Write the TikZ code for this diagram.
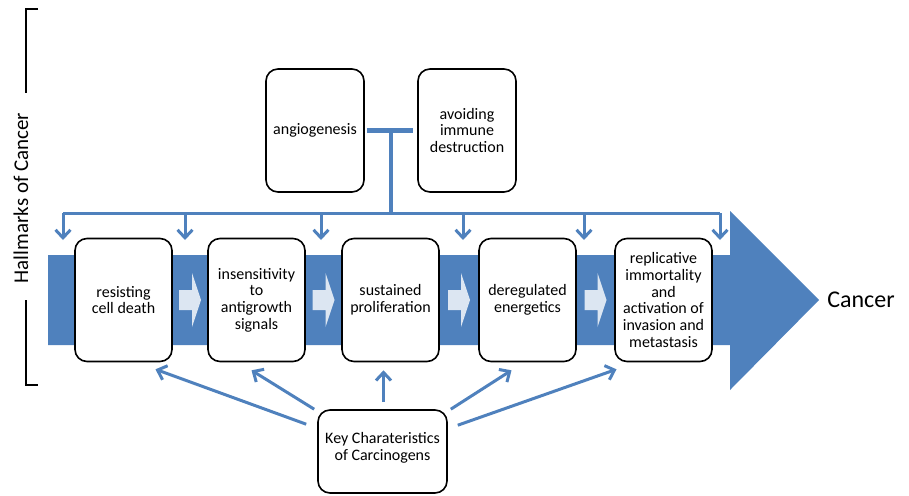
\documentclass[tikz,border=0pt]{standalone}
\usepackage{fontspec}
\setmainfont{Carlito}
\usetikzlibrary{arrows.meta, positioning, calc}
\definecolor{hmblue}{HTML}{4F81BD}
\definecolor{hmpale}{HTML}{DCE6F2}
\newcommand{\hmfont}{\fontsize{16}{16.7}\selectfont}

\begin{document}
\begin{tikzpicture}[x=1pt, y=-1pt,
    hallmark/.style={rectangle, rounded corners=12pt, draw, line width=1.6pt, fill=white,
      minimum width=97pt, minimum height=123pt, align=center, font=\hmfont, inner sep=2pt},
    feed/.style={draw=hmblue, line width=3pt, -{Straight Barb[length=8pt, width=15pt]}},
    bus/.style={draw=hmblue, line width=3pt},
    tbar/.style={draw=hmblue, line width=4.5pt},
    bracket/.style={draw, line width=1.5pt}]
    \useasboundingbox (0,0) rectangle (909,495);

    % Big arrow
    \fill[hmblue] (48,255) -- (730,255) -- (730,211) -- (819,300) -- (730,390) -- (730,345) -- (48,345) -- cycle;

    % Nodes
    \node (rcd) [hallmark] at (123.5,300) {resisting\\cell death};
    \node (ins) [hallmark, right=34.4pt of rcd] {insensitivity\\to\\antigrowth\\signals};
    \node (sus) [hallmark, right=35.4pt of ins] {sustained\\proliferation};
    \node (der) [hallmark, right=38.4pt of sus] {deregulated\\energetics};
    \node (rep) [hallmark, right=37.4pt of der] {replicative\\immortality\\and\\activation of\\invasion and\\metastasis};

    \node (ang) [hallmark, minimum width=98pt] at (315,130.5) {angiogenesis};
    \node (imm) [hallmark, minimum width=98pt, right=52.4pt of ang] {avoiding\\immune\\destruction};

    \node (key) [hallmark, minimum width=129pt, minimum height=83pt] at (382.5,451.5) {Key Charateristics\\of Carcinogens\\[-6pt]};

    \node (cancer) [font=\fontsize{24}{26}\selectfont] at (861,300) {Cancer};
    \node (hmk) [rotate=90, font=\fontsize{21}{23}\selectfont] at (21,198) {Hallmarks of Cancer};

    % Bracket
    \draw[bracket] (38,9) -- (26,9) -- (26,93);
    \draw[bracket] (26,300) -- (26,385) -- (38,385);

    % Steps between hallmarks
    \foreach \a/\b in {rcd/ins, ins/sus, sus/der, der/rep}
      \fill[hmpale] ($(\a.east)!0.5!(\b.west)$) ++(-11,-10) -- ++(13,0) -- ++(0,-17) -- ++(9,27)
        -- ++(-9,27) -- ++(0,-17) -- ++(-13,0) -- cycle;

    % Edges
    \draw[tbar] ([xshift=2pt]ang.east) -- ([xshift=-4pt]imm.west);
    \coordinate (mid) at ($(ang.east)!0.5!(imm.west)$);
    \foreach \x [count=\i] in {63,185,321,463,584,720} {
      \coordinate (top\i) at (\x,213);
      \coordinate (tip\i) at (\x,240);
    }
    \draw[tbar] (mid) -- (mid |- top1);
    \draw[bus] (top1) -- (top6);
    \foreach \i in {1,...,6}
      \draw[feed] (top\i) -- (tip\i);

    \draw[feed] ($(key.north west)+(-11,15)$) -- ($(rcd.south)+(32,7)$);
    \draw[feed] ($(key.north west)+(-3,0)$) -- ($(ins.south)+(-5,8)$);
    \draw[feed] ($(key.north)+(1,-7)$) -- ($(sus.south)+(-7,8)$);
    \draw[feed] ($(key.north east)+(3,0)$) -- ($(der.south)+(-16,8)$);
    \draw[feed] ($(key.north east)+(10,16)$) -- ($(rep.south)+(-47,7)$);
\end{tikzpicture}
\end{document}
